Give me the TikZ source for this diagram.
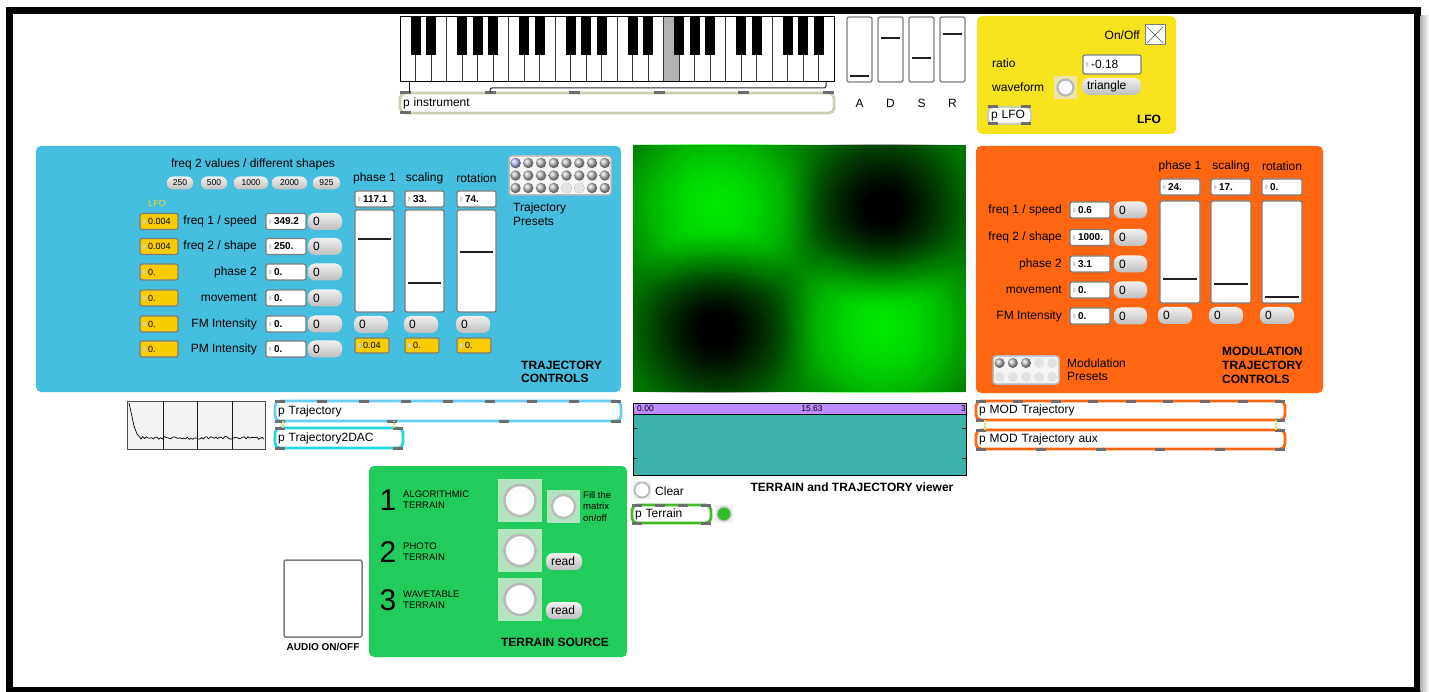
\documentclass[tikz,border=0pt]{standalone}
\usepackage{fontspec}
\setmainfont{Liberation Sans}

\definecolor{trajblue}{RGB}{70,190,223}
\definecolor{modorange}{RGB}{255,102,17}
\definecolor{lfoyellow}{RGB}{248,228,30}
\definecolor{lfotext}{RGB}{250,215,50}
\definecolor{srcgreen}{RGB}{34,204,90}
\definecolor{srctog}{RGB}{178,228,192}
\definecolor{togbg}{RGB}{236,228,168}
\definecolor{boxyellow}{RGB}{248,204,0}
\definecolor{boxedge}{RGB}{125,125,125}
\definecolor{viewteal}{RGB}{58,178,168}
\definecolor{viewbar}{RGB}{190,140,255}
\definecolor{terrbase}{RGB}{0,120,0}
\definecolor{terrhi}{RGB}{0,250,0}
\definecolor{cordsage}{RGB}{200,208,176}
\definecolor{cordblue}{RGB}{105,205,245}
\definecolor{cordcyan}{RGB}{35,215,225}
\definecolor{cordgreen}{RGB}{70,185,40}
\definecolor{ledgreen}{RGB}{50,190,40}
\definecolor{patchcord}{RGB}{200,230,80}
\definecolor{tabgray}{RGB}{110,110,110}

\begin{document}
\begin{tikzpicture}[x=1pt, y=-1pt,
  f12/.style={font=\fontsize{12}{14}\selectfont},
  lbl/.style={f12, inner sep=0pt},
  hdr/.style={font=\bfseries\fontsize{12}{13.5}\selectfont, align=left, inner sep=0pt},
  numtri/.style={path picture={\fill[gray!35]
      ([xshift=3pt,yshift=3.5pt]path picture bounding box.west) --
      ([xshift=3pt,yshift=-3.5pt]path picture bounding box.west) --
      ([xshift=6.5pt]path picture bounding box.west) -- cycle;}},
  numbox/.style={draw=boxedge, line width=1.2pt, fill=white, rounded corners=2pt,
    anchor=north west, outer sep=0pt, minimum height=16pt, inner xsep=2pt, inner ysep=0pt,
    text width=#1pt, align=left, font=\bfseries\fontsize{10}{11}\selectfont,
    execute at begin node=\hspace*{6pt}, numtri},
  ynum/.style={numbox=#1, fill=boxyellow, font=\fontsize{9}{10}\selectfont},
  pill/.style={rounded corners=7pt, top color=gray!12, bottom color=gray!50,
    anchor=north west, outer sep=0pt, minimum height=17pt, inner xsep=5pt, inner ysep=0pt,
    text width=#1pt, align=left, f12},
  spill/.style={rounded corners=6pt, top color=gray!12, bottom color=gray!50,
    minimum width=#1pt, minimum height=13pt, inner sep=0pt, font=\fontsize{8.5}{9}\selectfont},
  slider/.style={draw=boxedge, line width=1.3pt, fill=white, rounded corners=2pt},
  knob/.style={line width=2.8pt, gray!25!black},
  pbox/.style={draw=#1, line width=2.8pt, fill=white, rounded corners=5pt,
    anchor=north west, outer sep=0pt, inner xsep=3pt, inner ysep=0pt, align=left, f12},
  inlet/.style={fill=tabgray},
  cord/.style={patchcord, line width=2pt, dash pattern=on 2pt off 1pt},
  tog/.style={gray!55, line width=2.2pt, fill=white}]

  \useasboundingbox (0,0) rectangle (1429,692);

  % Keyboard
  \node[fill=white, minimum width=434pt, minimum height=65pt, anchor=north west,
    inner sep=0pt, outer sep=0pt] (kbd) at (400,17) {};
  \fill[gray!60] (663.5,17) rectangle (679,82);
  \foreach \k in {1,...,27}
    \draw[gray!40!black, line width=.6pt] ({400+15.5*\k},17) -- ({400+15.5*\k},82);
  \foreach \o in {0,...,3}
    \foreach \b in {1,2,4,5,6}
      \fill[black] ({400+15.5*(7*\o+\b)-5},17) rectangle ++(10,38);
  \draw[line width=1pt] (kbd.north west) rectangle (kbd.south east);

  % ADSR sliders
  \foreach \x/\k/\lab [count=\i] in {847/76/A, 878/38/D, 909/58/S, 940/34/R}{
    \draw[slider] (\x,17) rectangle ++(25,65);
    \draw[knob] ({\x+3},\k) -- ++(19,0);
    \node[lbl] (env\i) at ({\x+12.5},103) {\lab};
  }

  % Instrument patcher
  \node[pbox=cordsage, text width=428pt, minimum height=20pt] (instr) at (400,93) {p instrument};
  \foreach \t in {0,...,5}
    \fill[inlet] ({400+84.6*\t},91.5) rectangle ++(11,3);
  \fill[inlet] (400,111.5) rectangle ++(11,3);
  \draw[gray!30!black, line width=1pt] ([xshift=9pt]kbd.south west) -- ([xshift=9pt]instr.north west);
  \draw[gray!30!black, line width=1pt, rounded corners=2pt]
    ([xshift=-8pt]kbd.south east) -- ++(0,6) -| ([xshift=90pt]instr.north west);

  % LFO panel
  \fill[lfoyellow, rounded corners=5pt] (977,16) rectangle (1176,134);
  \node[lbl, anchor=east] (onoff) at (1140,35) {On/Off};
  \draw[boxedge, fill=white, line width=1pt] (1145,25) rectangle (1165,45);
  \draw[gray!60!black, line width=.6pt] (1147,27) -- (1163,43) (1163,27) -- (1147,43);
  \node[lbl, anchor=west] (ratio) at (992,63) {ratio};
  \node[numbox=54, minimum height=19pt, font=\fontsize{12}{14}\selectfont] (ratiov) at (1083,55) {-0.18};
  \node[lbl, anchor=west] (wform) at (992,87) {waveform};
  \fill[togbg] (1054,76) rectangle (1077,99);
  \draw[tog] (1065.5,87.5) circle (8);
  \node[pill=49] (wshape) at (1082,78) {triangle};
  \node[pbox=cordsage, line width=2pt, text width=37pt, minimum height=17pt] (plfo) at (988,107) {p LFO};
  \foreach \t in {988,1021}{
    \fill[inlet] (\t,105.5) rectangle ++(10,3);
    \fill[inlet] (\t,122.5) rectangle ++(10,3);
  }
  \node[hdr] (lfot) at (1149,119) {LFO};

  % Trajectory controls
  \fill[trajblue, rounded corners=5pt] (36,146) rectangle (621,392);
  \node[lbl] (shapes) at (253,164) {freq 2 values / different shapes};
  \foreach \x/\w/\v [count=\i] in {180/26/250, 214/26/500, 251/34/1000, 289.5/35/2000, 326.5/27/925}
    \node[spill=\w] (shape\i) at (\x,183) {\v};
  \node[font=\fontsize{9}{10}\selectfont, text=lfotext, inner sep=0pt] (lfohead) at (157,203) {LFO};
  \foreach \y/\lab/\lfo/\val [count=\i] in {221.5/{freq 1 / speed}/0.004/349.2,
      246.5/{freq 2 / shape}/0.004/250., 272/phase 2/0./0., 298/movement/0./0.,
      324/FM Intensity/0./0., 349/PM Intensity/0./0.}{
    \node[ynum=34] (tlfo\i) at (140,{\y-8}) {\lfo};
    \node[lbl, anchor=east] (tlab\i) at (257,\y) {\lab};
    \node[numbox=36] (tval\i) at (266,{\y-8}) {\val};
    \node[pill=24] (tbtn\i) at (308,{\y-8.5}) {0};
  }
  \foreach \x/\lab/\val/\k/\yv [count=\i] in {355/phase 1/117.1/239/0.04,
      405/scaling/33./283/0., 457/rotation/74./252/0.}{
    \node[lbl] (tslab\i) at ({\x+19.5},178) {\lab};
    \node[numbox=35] (tsval\i) at (\x,191) {\val};
    \draw[slider] (\x,210) rectangle ++(39,102);
    \draw[knob] ({\x+3},\k) -- ++(33,0);
    \node[pill=24] (tsbtn\i) at ({\x-1},316) {0};
    \node[ynum=30, minimum height=15pt] (tslfo\i) at (\x,338) {\yv};
  }
  % presets
  \draw[gray!55, line width=1.5pt, fill=gray!8, rounded corners=3pt] (509,156) rectangle (611,195);
  \foreach \r in {0,1,2}
    \foreach \c in {0,...,7}
      \shade[ball color=gray!50] ({515.5+12.75*\c},{163+12.5*\r}) circle (5.2);
  \shade[ball color=blue!25] (515.5,163) circle (5.2);
  \foreach \c in {4,5}
    \fill[gray!20] ({515.5+12.75*\c},188) circle (5.2);
  \node[anchor=north west, align=left, inner sep=0pt, font=\fontsize{12}{14}\selectfont] (tpre) at (513,203) {Trajectory\\Presets};
  \node[hdr, anchor=north west, font=\bfseries\fontsize{12}{13}\selectfont] (ttitle) at (521,361) {TRAJECTORY\\CONTROLS};

  % Terrain picture, soft peaks and pits
  \fill[terrbase] (633,145) rectangle (966,392);
  \begin{scope}
    \clip (633,145) rectangle (966,392);
    \foreach \r [evaluate=\r as \op using {0.1*(1-\r/130)}] in {2,4,...,128}{
      \fill[terrhi, fill opacity=\op] (717,207) circle (\r);
      \fill[terrhi, fill opacity=\op] (883,328) circle (\r);
    }
    \foreach \r [evaluate=\r as \op using {0.1*(1-\r/105)}] in {2,4,...,104}{
      \fill[black, fill opacity=\op] (883,208) circle (\r);
      \fill[black, fill opacity=\op] (717,330) circle (\r);
    }
  \end{scope}

  % Modulation trajectory controls
  \fill[modorange, rounded corners=5pt] (976,146) rectangle (1323,393);
  \foreach \y/\lab/\val [count=\i] in {210/{freq 1 / speed}/0.6, 237.5/{freq 2 / shape}/1000.,
      264/phase 2/3.1, 290/movement/0., 316/FM Intensity/0.}{
    \node[lbl, anchor=east] (mlab\i) at (1062,\y) {\lab};
    \node[numbox=36] (mval\i) at (1070,{\y-8}) {\val};
    \node[pill=23] (mbtn\i) at (1114,{\y-8.5}) {0};
  }
  \foreach \x/\lab/\val/\k [count=\i] in {1160/phase 1/24./279, 1211/scaling/17./284, 1262/rotation/0./297}{
    \node[lbl] (mslab\i) at ({\x+20},166) {\lab};
    \node[numbox=36] (msval\i) at (\x,179) {\val};
    \draw[slider] (\x,201) rectangle ++(40,102);
    \draw[knob] ({\x+3},\k) -- ++(34,0);
    \node[pill=24] (msbtn\i) at ({\x-2},307) {0};
  }
  \draw[gray!55, line width=1.5pt, fill=gray!8, rounded corners=3pt] (993,356) rectangle (1059,384);
  \foreach \r in {0,1}
    \foreach \c in {0,...,4}
      \fill[gray!22] ({999.6+13.2*\c},{363+14*\r}) circle (5);
  \foreach \c in {0,1,2}
    \shade[ball color=gray!50] ({999.6+13.2*\c},363) circle (5);
  \node[anchor=north west, align=left, inner sep=0pt, font=\fontsize{12}{13}\selectfont] (mpre) at (1067,359) {Modulation\\Presets};
  \node[hdr, anchor=north west, font=\bfseries\fontsize{12}{14}\selectfont] (mtitle) at (1222,347) {MODULATION\\TRAJECTORY\\CONTROLS};

  % Trajectory patchers and scope
  \node[draw=gray!60!black, fill=gray!10, line width=1pt, minimum width=138pt, minimum height=48pt,
    anchor=north west, inner sep=0pt, outer sep=0pt] (spec) at (127,401) {};
  \foreach \x in {163,197,232}
    \draw[gray!20!black, line width=1pt] (\x,401) -- (\x,449);
  \pgfmathsetseed{5}
  \draw[black, line width=.7pt] (129,403) -- (131,412) -- (134,426) -- (137,434) -- (140,437.5)
    -- plot[domain=141:264, samples=70] (\x,{436.5+2.8*rnd});
  \node[pbox=cordblue, text width=340pt, minimum height=20pt] (traj) at (275,401) {p Trajectory};
  \foreach \t in {0,...,8}
    \fill[inlet] ({275+42*\t},399.5) rectangle ++(10,3);
  \foreach \t in {0,...,3}
    \fill[inlet] ({275+112*\t},419.5) rectangle ++(10,3);
  \node[pbox=cordcyan, text width=122pt, minimum height=20pt] (dac) at (275,428) {p Trajectory2DAC};
  \foreach \t in {275,393}{
    \fill[inlet] (\t,426.5) rectangle ++(10,3);
    \fill[inlet] (\t,446.5) rectangle ++(10,3);
  }
  \draw[cord] ([xshift=8pt]traj.south west) -- ([xshift=8pt]dac.north west);
  \draw[cord] ([xshift=-9pt]dac.north east) -- ++(0,-7);

  % Viewer
  \node[draw=black, fill=viewteal, line width=1pt, minimum width=333pt, minimum height=72pt,
    anchor=north west, inner sep=0pt, outer sep=0pt] (view) at (633,403) {};
  \draw[fill=viewbar, line width=1pt] (633,403) rectangle (966,414);
  \foreach \t in {428,458}{
    \draw[gray!30!black] (633,\t) -- ++(4,0);
    \draw[gray!30!black] (966,\t) -- ++(-4,0);
  }
  \node[anchor=west, inner sep=0pt, font=\fontsize{8.5}{9}\selectfont] (tick0) at (637,408.5) {0.00};
  \node[inner sep=0pt, font=\fontsize{8.5}{9}\selectfont] (tick1) at (812,408.5) {15.63};
  \node[anchor=east, inner sep=0pt, font=\fontsize{8.5}{9}\selectfont] (tick2) at (966,408.5) {3};
  \fill[gray!12] (633,481) rectangle (651,499);
  \draw[tog, line width=1.8pt] (642,490) circle (7.5);
  \node[lbl, anchor=west] (clear) at (655,491) {Clear};
  \node[hdr] (viewt) at (852,487) {TERRAIN and TRAJECTORY viewer};
  \node[pbox=cordgreen, text width=73pt, minimum height=18pt] (terr) at (632,505) {p Terrain};
  \foreach \t in {0,...,3}
    \fill[inlet] ({632+23*\t},503.5) rectangle ++(10,3);
  \foreach \t in {632,701}
    \fill[inlet] (\t,521.5) rectangle ++(10,3);
  \fill[gray!12] (715,505) rectangle (733,523);
  \draw[gray!50, fill=ledgreen, line width=1.2pt] (724,514) circle (7);

  % Modulation patchers
  \node[pbox=modorange, text width=303pt, minimum height=19pt] (mod) at (976,401) {p MOD Trajectory};
  \node[pbox=modorange, text width=303pt, minimum height=19pt] (modaux) at (976,430) {p MOD Trajectory aux};
  \foreach \t in {0,...,8}
    \fill[inlet] ({976+37.4*\t},399.5) rectangle ++(10,3);
  \foreach \t in {976,1275}{
    \fill[inlet] (\t,418.5) rectangle ++(10,3);
    \fill[inlet] (\t,428.5) rectangle ++(10,3);
  }
  \foreach \t in {0,...,5}
    \fill[inlet] ({976+59.8*\t},447.5) rectangle ++(10,3);
  \draw[cord] ([xshift=9pt]mod.south west) -- ([xshift=9pt]modaux.north west);
  \draw[cord] ([xshift=-9pt]mod.south east) -- ([xshift=-9pt]modaux.north east);

  % Terrain source
  \fill[srcgreen, rounded corners=5pt] (369,466) rectangle (627,657);
  \foreach \y/\n/\lab [count=\i] in {500/1/ALGORITHMIC, 552/2/PHOTO, 600/3/WAVETABLE}{
    \node[font=\fontsize{30}{30}\selectfont, inner sep=0pt] (snum\i) at (388,\y) {\n};
    \node[anchor=west, align=left, inner sep=0pt, font=\fontsize{9.5}{11.5}\selectfont] (stxt\i) at (403,{\y-0.5}) {\lab\\TERRAIN};
  }
  \foreach \y in {479,529,578}{
    \fill[srctog] (498,\y) rectangle ++(44,43);
    \draw[tog, line width=2.6pt] (520,{\y+21.5}) circle (15.5);
  }
  \fill[srctog] (547,490) rectangle (580,523);
  \draw[tog] (563.5,506.5) circle (11.5);
  \node[anchor=north west, align=left, inner sep=0pt, font=\fontsize{9.5}{11.5}\selectfont] (fillmx) at (583,491) {Fill the\\matrix\\on/off};
  \node[pill=26] (read1) at (546,553) {read};
  \node[pill=26] (read2) at (546,602) {read};
  \node[hdr] (srct) at (555,642) {TERRAIN SOURCE};

  % Audio switch
  \node[draw=boxedge, line width=1.5pt, fill=white, rounded corners=2pt, minimum width=78pt,
    minimum height=77pt, anchor=north west, inner sep=0pt, outer sep=0pt] (audio) at (284,560) {};
  \node[hdr, font=\bfseries\fontsize{10}{12}\selectfont] (audiot) at (323,647) {AUDIO ON/OFF};

  % Window frame
  \draw[line width=7pt] (9,10.5) rectangle (1417,690);
  \shade[left color=gray!60, right color=white] (1420.5,16) rectangle (1429,692);
\end{tikzpicture}
\end{document}
